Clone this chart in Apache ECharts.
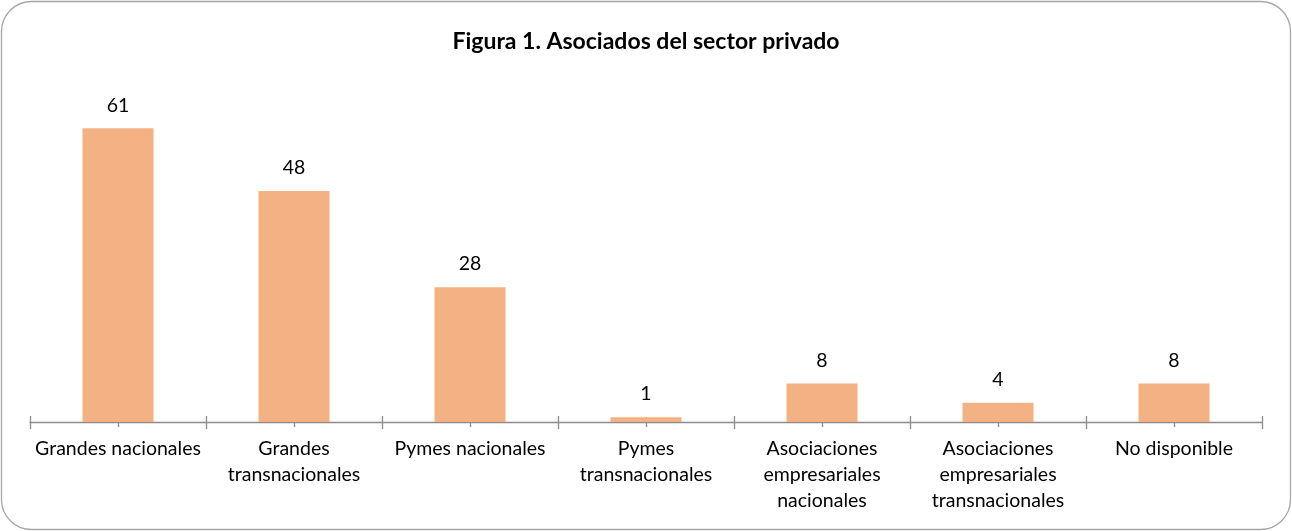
<!DOCTYPE html>
<html><head><meta charset="utf-8">
<script src="https://cdn.jsdelivr.net/npm/echarts@6/dist/echarts.min.js"></script>
<style>html,body{margin:0;padding:0;background:#fff}#c{width:1292px;height:531px}</style>
</head><body><div id="c"></div>
<script>
const titleText = 'Figura 1. Asociados del sector privado';
const categories = ['Grandes nacionales','Grandes\ntransnacionales','Pymes nacionales','Pymes\ntransnacionales','Asociaciones\nempresariales\nnacionales','Asociaciones\nempresariales\ntransnacionales','No disponible'];
const values = [61,48,28,1,8,4,8];

const FONT = 'Lato, "Open Sans", sans-serif';
const axisColor = '#8c8c8c';
function tickAxis(align, inside, len, withLine){
  return {type:'category', data:categories, gridIndex:0, position:'bottom',
    axisLine:{show:withLine, lineStyle:{color:axisColor, width:1.3}},
    axisTick:{show:true, alignWithLabel:align, inside:inside, length:len, lineStyle:{color:axisColor, width:1.3}},
    axisLabel:{show:withLine, interval:0, color:'#000', fontFamily:FONT, fontSize:19.5, lineHeight:26, margin:14},
    splitLine:{show:false}};
}
const chart = echarts.init(document.getElementById('c'), null, {renderer:'canvas'});
chart.setOption({
  animation:false,
  backgroundColor:'#fff',
  graphic:[{type:'rect', shape:{x:1.5,y:1.5,width:1289,height:528,r:30}, style:{fill:'none', stroke:'#a6a6a6', lineWidth:1.3}, z:-1}],
  title:{text:titleText, left:'center', top:25, textStyle:{fontFamily:FONT, fontWeight:'bold', fontSize:23, color:'#000'}},
  grid:{left:30, right:30, top:85, bottom:109, containLabel:false},
  xAxis:[tickAxis(false,false,7,true), tickAxis(false,true,6,false), tickAxis(true,false,5,false), tickAxis(true,true,5,false)],
  yAxis:{type:'value', min:0, max:70, show:false, splitLine:{show:false}},
  series:[{type:'bar', data:values, xAxisIndex:0, barWidth:71, itemStyle:{color:'#F4B183'},
    label:{show:true, position:'top', distance:13, color:'#000', fontFamily:FONT, fontSize:19.5}}]
});
</script></body></html>
